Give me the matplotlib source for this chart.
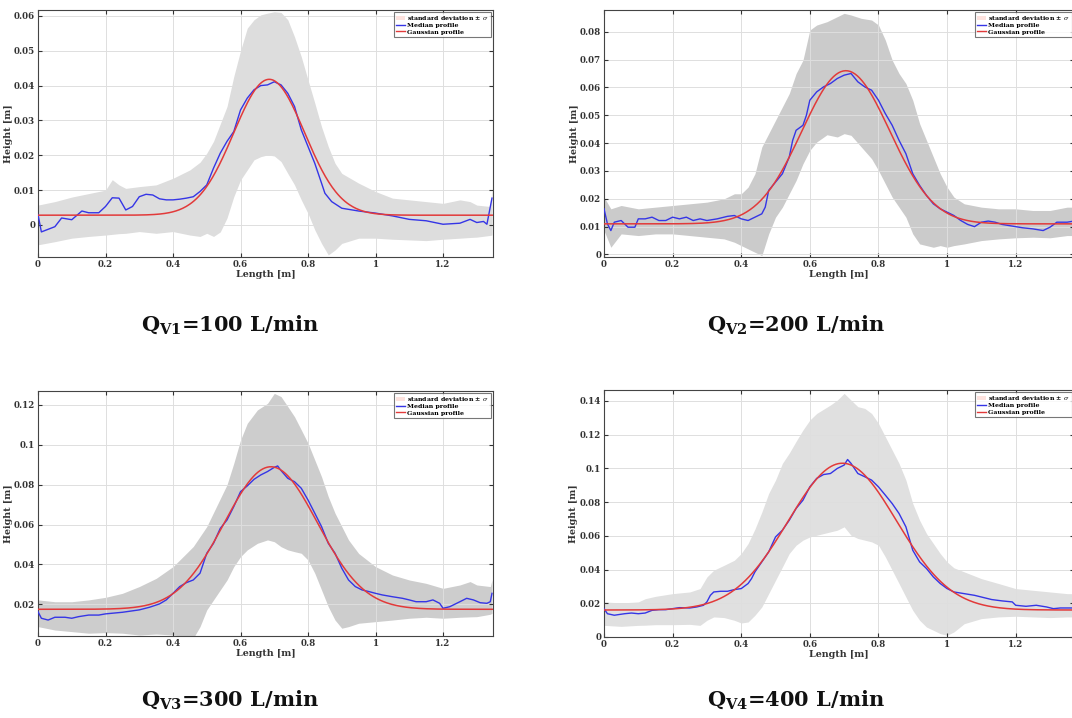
import numpy as np
import matplotlib
matplotlib.use("Agg")
import matplotlib.pyplot as plt
from matplotlib.patches import Patch
from matplotlib.lines import Line2D
from matplotlib.ticker import FuncFormatter, MultipleLocator

plt.rcParams['font.family'] = ['DejaVu Serif']
plt.rcParams['mathtext.fontset'] = 'custom'
plt.rcParams['mathtext.rm'] = 'DejaVu Serif:bold'
plt.rcParams['mathtext.it'] = 'DejaVu Serif:italic'
plt.rcParams['mathtext.bf'] = 'DejaVu Serif:bold'

# ---------------- data ----------------
captions = [r'Q$_{\mathrm{V1}}$=100 L/min', r'Q$_{\mathrm{V2}}$=200 L/min',
            r'Q$_{\mathrm{V3}}$=300 L/min', r'Q$_{\mathrm{V4}}$=400 L/min']

# Panel 1 (Qv1 = 100 L/min)
p1_med_x = [0, 0.01, 0.05, 0.07, 0.1, 0.13, 0.15, 0.18, 0.2, 0.22, 0.24, 0.26, 0.28, 0.3, 0.32, 0.34, 0.36,
            0.38, 0.4, 0.42, 0.44, 0.46, 0.48, 0.5, 0.52, 0.54, 0.56, 0.58, 0.6, 0.62, 0.64, 0.66, 0.68, 0.7,
            0.72, 0.74, 0.76, 0.78, 0.8, 0.82, 0.84, 0.85, 0.87, 0.9, 0.95, 1.0, 1.05, 1.1, 1.15, 1.2, 1.25,
            1.28, 1.3, 1.32, 1.33, 1.345]
p1_med_y = [0.003, -0.002, -0.0005, 0.002, 0.0015, 0.004, 0.0035, 0.0035, 0.0053, 0.0078, 0.0077, 0.0043,
            0.0053, 0.0081, 0.0088, 0.0086, 0.0075, 0.0072, 0.0072, 0.0074, 0.0077, 0.0081, 0.0096, 0.0115,
            0.0163, 0.0206, 0.024, 0.0268, 0.033, 0.0364, 0.0388, 0.040, 0.0402, 0.0411, 0.0402, 0.0378,
            0.034, 0.0273, 0.0225, 0.0177, 0.012, 0.0091, 0.0067, 0.0048, 0.004, 0.0034, 0.0026, 0.0016,
            0.0012, 0.0002, 0.0005, 0.0016, 0.0007, 0.001, 0.0002, 0.0077]
p1_band_x = [0, 0.05, 0.1, 0.15, 0.2, 0.22, 0.24, 0.26, 0.3, 0.35, 0.4, 0.45, 0.48, 0.5, 0.52, 0.54, 0.56,
             0.58, 0.6, 0.62, 0.64, 0.66, 0.68, 0.7, 0.72, 0.74, 0.76, 0.78, 0.8, 0.82, 0.84, 0.86, 0.88, 0.9,
             0.95, 1.0, 1.05, 1.1, 1.15, 1.2, 1.25, 1.28, 1.3, 1.34, 1.345]
p1_upper = [0.0057, 0.0067, 0.008, 0.009, 0.010, 0.013, 0.0115, 0.0105, 0.011, 0.0115, 0.0134, 0.0158,
            0.018, 0.0206, 0.024, 0.029, 0.034, 0.0426, 0.050, 0.0565, 0.0589, 0.0603, 0.0608, 0.0612,
            0.061, 0.0589, 0.054, 0.0483, 0.0416, 0.035, 0.0282, 0.0225, 0.0177, 0.0148, 0.012, 0.0096,
            0.0077, 0.0072, 0.0067, 0.0062, 0.0072, 0.0067, 0.0057, 0.0053, 0.0105]
p1_lower = [-0.0057, -0.0048, -0.0038, -0.0033, -0.0029, -0.0027, -0.0025, -0.0024, -0.0019, -0.0024,
            -0.0019, -0.0029, -0.0033, -0.0024, -0.0033, -0.002, 0.002, 0.0081, 0.0129, 0.0158, 0.0187,
            0.0196, 0.0201, 0.0198, 0.0182, 0.0148, 0.0115, 0.0072, 0.0033, -0.0014, -0.0053, -0.0086,
            -0.0072, -0.0053, -0.0038, -0.0038, -0.0041, -0.0043, -0.0045, -0.0041, -0.0038, -0.0036,
            -0.0035, -0.003, -0.0029]

# Panel 2 (Qv2 = 200 L/min)
p2_med_x = [0, 0.01, 0.02, 0.03, 0.05, 0.07, 0.09, 0.1, 0.12, 0.14, 0.16, 0.18, 0.2, 0.22, 0.24, 0.26, 0.28,
            0.3, 0.33, 0.36, 0.38, 0.4, 0.42, 0.44, 0.46, 0.47, 0.48, 0.5, 0.52, 0.54, 0.55, 0.56, 0.58, 0.59,
            0.6, 0.62, 0.64, 0.66, 0.68, 0.7, 0.72, 0.74, 0.76, 0.78, 0.8, 0.82, 0.84, 0.86, 0.88, 0.9, 0.92,
            0.94, 0.96, 0.98, 1.0, 1.02, 1.04, 1.06, 1.08, 1.1, 1.12, 1.14, 1.16, 1.18, 1.2, 1.22, 1.25, 1.28,
            1.3, 1.32, 1.35, 1.37]
p2_med_y = [0.0164, 0.011, 0.0086, 0.0116, 0.0122, 0.0098, 0.0098, 0.0128, 0.0128, 0.0134, 0.0122, 0.0122,
            0.0134, 0.0128, 0.0134, 0.0122, 0.0128, 0.0122, 0.0128, 0.0137, 0.014, 0.0128, 0.0122, 0.0134,
            0.0146, 0.017, 0.023, 0.026, 0.029, 0.035, 0.041, 0.0446, 0.0464, 0.05, 0.0554, 0.0584, 0.0602,
            0.0614, 0.0632, 0.0644, 0.065, 0.062, 0.0602, 0.059, 0.0554, 0.0506, 0.0464, 0.041, 0.0362,
            0.029, 0.0248, 0.0212, 0.0182, 0.0164, 0.0152, 0.014, 0.0122, 0.0108, 0.01, 0.0116, 0.012,
            0.0116, 0.0108, 0.0104, 0.01, 0.0096, 0.0092, 0.0086, 0.0098, 0.0116, 0.0116, 0.012]
p2_band_x = [0, 0.02, 0.05, 0.1, 0.15, 0.2, 0.25, 0.3, 0.35, 0.38, 0.4, 0.42, 0.44, 0.46, 0.48, 0.5, 0.52,
             0.54, 0.56, 0.58, 0.6, 0.62, 0.65, 0.68, 0.7, 0.72, 0.75, 0.78, 0.8, 0.82, 0.84, 0.86, 0.88, 0.9,
             0.92, 0.94, 0.96, 0.98, 1.0, 1.02, 1.05, 1.1, 1.15, 1.2, 1.25, 1.3, 1.35, 1.37]
p2_upper = [0.0206, 0.0164, 0.0176, 0.0164, 0.017, 0.0176, 0.0182, 0.0188, 0.02, 0.0218, 0.0218, 0.0242,
            0.029, 0.0386, 0.0434, 0.0482, 0.053, 0.0578, 0.065, 0.0698, 0.0806, 0.0824, 0.0836, 0.0854,
            0.0866, 0.086, 0.0848, 0.0842, 0.0824, 0.077, 0.0698, 0.065, 0.0614, 0.0554, 0.047, 0.041,
            0.035, 0.029, 0.0242, 0.0206, 0.0182, 0.017, 0.0164, 0.0164, 0.0158, 0.0158, 0.017, 0.017]
p2_lower = [0.0086, 0.0026, 0.0074, 0.0068, 0.0074, 0.0074, 0.0068, 0.0062, 0.0056, 0.0044, 0.0032, 0.002,
            0.0008, -0.0004, 0.0074, 0.0134, 0.017, 0.0218, 0.0266, 0.0326, 0.0374, 0.0404, 0.043, 0.0422,
            0.0434, 0.0428, 0.0386, 0.0344, 0.0302, 0.0254, 0.0206, 0.017, 0.0134, 0.0074, 0.0038, 0.0032,
            0.0026, 0.0032, 0.0026, 0.0032, 0.0038, 0.005, 0.0056, 0.006, 0.0062, 0.006, 0.0068, 0.0068]

# Panel 3 (Qv3 = 300 L/min)
p3_med_x = [0, 0.01, 0.03, 0.05, 0.08, 0.1, 0.12, 0.15, 0.18, 0.2, 0.25, 0.3, 0.33, 0.36, 0.38, 0.4, 0.42,
            0.44, 0.46, 0.48, 0.5, 0.52, 0.54, 0.56, 0.58, 0.6, 0.62, 0.64, 0.66, 0.68, 0.7, 0.71, 0.72, 0.74,
            0.76, 0.78, 0.8, 0.82, 0.84, 0.86, 0.88, 0.9, 0.92, 0.94, 0.96, 0.98, 1.0, 1.02, 1.05, 1.08, 1.1,
            1.12, 1.15, 1.17, 1.19, 1.2, 1.22, 1.25, 1.27, 1.29, 1.31, 1.33, 1.34, 1.345]
p3_med_y = [0.0163, 0.013, 0.0121, 0.0135, 0.0135, 0.013, 0.0138, 0.0146, 0.0146, 0.0152, 0.016, 0.0172,
            0.0185, 0.0202, 0.0222, 0.0255, 0.0289, 0.0309, 0.0322, 0.0356, 0.0456, 0.0506, 0.0581, 0.0623,
            0.069, 0.0765, 0.0794, 0.0827, 0.0849, 0.0866, 0.0887, 0.0894, 0.0871, 0.0832, 0.0815, 0.0782,
            0.0723, 0.0657, 0.059, 0.0506, 0.0456, 0.0381, 0.0322, 0.0289, 0.0272, 0.0264, 0.0255, 0.0247,
            0.0238, 0.023, 0.0222, 0.0213, 0.0213, 0.0222, 0.0205, 0.018, 0.0188, 0.0213, 0.023, 0.0222,
            0.0208, 0.0205, 0.0213, 0.0255]
p3_band_x = [0, 0.05, 0.1, 0.15, 0.2, 0.25, 0.3, 0.35, 0.4, 0.44, 0.46, 0.48, 0.5, 0.52, 0.54, 0.56, 0.58,
             0.6, 0.62, 0.65, 0.68, 0.7, 0.72, 0.74, 0.76, 0.78, 0.8, 0.82, 0.84, 0.86, 0.88, 0.9, 0.92, 0.95,
             1.0, 1.05, 1.1, 1.15, 1.2, 1.25, 1.28, 1.3, 1.34, 1.345]
p3_upper = [0.0222, 0.0213, 0.0213, 0.0222, 0.0235, 0.0255, 0.0289, 0.033, 0.0389, 0.0456, 0.049, 0.054,
            0.059, 0.066, 0.073, 0.08, 0.0907, 0.1024, 0.1108, 0.1175, 0.1208, 0.1258, 0.1242, 0.1192,
            0.1141, 0.1075, 0.1008, 0.0924, 0.084, 0.074, 0.0657, 0.059, 0.0523, 0.0455, 0.0389, 0.0347,
            0.0322, 0.0305, 0.028, 0.0297, 0.0314, 0.0297, 0.0289, 0.0322]
p3_lower = [0.0088, 0.0071, 0.0063, 0.0055, 0.0058, 0.0055, 0.0046, 0.0051, 0.0046, 0.0038, 0.003, 0.0088,
            0.0172, 0.0222, 0.0272, 0.0322, 0.0389, 0.0439, 0.0473, 0.0506, 0.0523, 0.0514, 0.0489, 0.0473,
            0.0464, 0.0456, 0.0422, 0.0356, 0.0272, 0.0188, 0.0121, 0.008, 0.0088, 0.0105, 0.0113, 0.0121,
            0.013, 0.0135, 0.013, 0.0135, 0.0137, 0.0138, 0.015, 0.0155]

# Panel 4 (Qv4 = 400 L/min)
p4_med_x = [0, 0.01, 0.03, 0.06, 0.08, 0.1, 0.12, 0.14, 0.16, 0.18, 0.2, 0.22, 0.25, 0.27, 0.29, 0.3, 0.31,
            0.32, 0.34, 0.36, 0.38, 0.4, 0.42, 0.43, 0.44, 0.46, 0.48, 0.5, 0.52, 0.54, 0.56, 0.58, 0.6, 0.62,
            0.64, 0.66, 0.68, 0.7, 0.71, 0.72, 0.74, 0.76, 0.78, 0.8, 0.82, 0.84, 0.86, 0.88, 0.9, 0.92, 0.94,
            0.96, 0.98, 1.0, 1.02, 1.05, 1.08, 1.1, 1.13, 1.16, 1.19, 1.2, 1.23, 1.26, 1.29, 1.31, 1.33, 1.35,
            1.37]
p4_med_y = [0.0168, 0.0138, 0.0129, 0.0138, 0.0142, 0.0138, 0.0142, 0.0158, 0.0162, 0.0162, 0.0168, 0.0174,
            0.0172, 0.0178, 0.0188, 0.0208, 0.0247, 0.0267, 0.0271, 0.0271, 0.0281, 0.0287, 0.0317, 0.0346,
            0.0386, 0.0445, 0.0504, 0.0593, 0.0633, 0.0692, 0.0762, 0.0811, 0.089, 0.094, 0.0963, 0.0969,
            0.0999, 0.1019, 0.1052, 0.1029, 0.0969, 0.095, 0.093, 0.089, 0.0841, 0.0791, 0.0732, 0.0653,
            0.0514, 0.0445, 0.0406, 0.0356, 0.0317, 0.0287, 0.0267, 0.0257, 0.0247, 0.0237, 0.0222, 0.0214,
            0.0208, 0.0188, 0.0182, 0.0188, 0.0178, 0.0168, 0.0172, 0.0172, 0.0172]
p4_band_x = [0, 0.05, 0.1, 0.12, 0.15, 0.2, 0.25, 0.28, 0.3, 0.32, 0.35, 0.38, 0.4, 0.42, 0.44, 0.46, 0.48,
             0.5, 0.52, 0.54, 0.56, 0.58, 0.6, 0.62, 0.64, 0.66, 0.68, 0.7, 0.72, 0.74, 0.76, 0.78, 0.8, 0.82,
             0.84, 0.86, 0.88, 0.9, 0.92, 0.94, 0.96, 0.98, 1.0, 1.02, 1.05, 1.1, 1.15, 1.2, 1.25, 1.3, 1.35,
             1.37]
p4_upper = [0.0208, 0.0202, 0.0208, 0.0227, 0.0241, 0.0257, 0.0267, 0.0287, 0.0356, 0.0396, 0.0425, 0.0455,
            0.0495, 0.0554, 0.064, 0.074, 0.0851, 0.093, 0.1029, 0.109, 0.116, 0.1227, 0.1286, 0.1325, 0.135,
            0.1375, 0.1404, 0.1444, 0.1404, 0.1365, 0.1355, 0.1325, 0.1266, 0.1187, 0.1108, 0.1029, 0.093,
            0.0791, 0.0692, 0.0613, 0.0554, 0.0495, 0.0445, 0.041, 0.0386, 0.0346, 0.0317, 0.0287, 0.0277,
            0.0267, 0.0257, 0.0257]
p4_lower = [0.0069, 0.0063, 0.0069, 0.007, 0.0073, 0.0073, 0.0075, 0.0069, 0.0099, 0.0119, 0.0115, 0.0099,
            0.0083, 0.0089, 0.0129, 0.0178, 0.0257, 0.0336, 0.0415, 0.0495, 0.0544, 0.0574, 0.0593, 0.0603,
            0.0613, 0.0623, 0.0633, 0.0653, 0.0603, 0.0584, 0.0574, 0.0564, 0.0544, 0.0475, 0.0396, 0.0317,
            0.0237, 0.0158, 0.0099, 0.0059, 0.004, 0.002, 0.001, 0.003, 0.0079, 0.0109, 0.0119, 0.0123,
            0.0119, 0.0115, 0.0119, 0.0119]

# Gaussian fit parameters: baseline, peak, centre, width (m)
gauss_base = [0.0028, 0.011, 0.0175, 0.016]
gauss_peak = [0.0418, 0.066, 0.089, 0.103]
gauss_center = [0.685, 0.705, 0.69, 0.695]
gauss_width = [0.105, 0.128, 0.138, 0.158]

x_limits = [(0, 1.348), (0, 1.37), (0, 1.348), (0, 1.37)]
y_limits = [(-0.0092, 0.0617), (-0.0009, 0.0878), (0.0041, 0.127), (0, 0.1464)]
y_steps = [0.01, 0.01, 0.02, 0.02]
band_colors = ['#dddddd', '#cbcbcb', '#cdcdcd', '#e0e0e0']

med_x = [p1_med_x, p2_med_x, p3_med_x, p4_med_x]
med_y = [p1_med_y, p2_med_y, p3_med_y, p4_med_y]
band_x = [p1_band_x, p2_band_x, p3_band_x, p4_band_x]
uppers = [p1_upper, p2_upper, p3_upper, p4_upper]
lowers = [p1_lower, p2_lower, p3_lower, p4_lower]

# ---------------- layout (pixels) ----------------
W, H = 1072, 718
# left, right, top, bottom in pixels
boxes = [(38, 493, 10, 257), (604, 1074, 10, 257), (38, 493, 391, 636), (604, 1074, 390, 637)]
cap_pos = [(230, 325), (796, 325), (230, 700), (796, 700)]

fig = plt.figure(figsize=(W / 100, H / 100), dpi=100)
fmt = FuncFormatter(lambda v, p: '%g' % round(v, 6))

for i in range(4):
    l, r, t, b = boxes[i]
    ax = fig.add_axes([l / W, 1 - b / H, (r - l) / W, (b - t) / H])
    ax.set_axisbelow('line')
    ax.fill_between(band_x[i], lowers[i], uppers[i], color=band_colors[i], lw=0, zorder=1)
    xg = np.linspace(0, x_limits[i][1], 400)
    yg = gauss_base[i] + (gauss_peak[i] - gauss_base[i]) * np.exp(
        -(xg - gauss_center[i]) ** 2 / (2 * gauss_width[i] ** 2))
    ax.plot(med_x[i], med_y[i], color='#3535e6', lw=1.0, zorder=3)
    ax.plot(xg, yg, color='#e23a3a', lw=1.1, zorder=4)
    ax.set_xlim(*x_limits[i])
    ax.set_ylim(*y_limits[i])
    ax.xaxis.set_major_locator(MultipleLocator(0.2))
    ax.yaxis.set_major_locator(MultipleLocator(y_steps[i]))
    ax.xaxis.set_major_formatter(fmt)
    ax.yaxis.set_major_formatter(fmt)
    ax.grid(True, color='#dedede', lw=0.7)
    ax.tick_params(direction='in', length=3, width=0.8, top=True, right=True,
                   labelsize=6.2, pad=2, colors='#333333')
    for lab in ax.get_xticklabels() + ax.get_yticklabels():
        lab.set_fontweight('bold')
    for s in ax.spines.values():
        s.set_color('#444444')
        s.set_linewidth(0.8)
    ax.set_xlabel('Length [m]', fontsize=6.8, fontweight='bold', labelpad=1, color='#333333')
    ax.set_ylabel('Height [m]', fontsize=6.8, fontweight='bold', labelpad=1, color='#333333')
    handles = [Patch(facecolor='#fde2de', edgecolor='none'),
               Line2D([], [], color='#3535e6', lw=1.0),
               Line2D([], [], color='#e23a3a', lw=1.0)]
    labels = [r'standard deviation $\pm$ $\sigma$', 'Median profile', 'Gaussian profile']
    leg = ax.legend(handles, labels, loc='upper right', frameon=True, fancybox=False,
                    borderpad=0.3, labelspacing=0.15, handlelength=1.5, handletextpad=0.3,
                    borderaxespad=0.35, prop={'weight': 'bold', 'size': 4.5})
    leg.get_frame().set_edgecolor('#555555')
    leg.get_frame().set_linewidth(0.8)
    cx, cy = cap_pos[i]
    fig.text(cx / W, 1 - cy / H, captions[i], fontsize=15, fontweight='bold',
             ha='center', va='center', color='#111111')

fig.savefig('out.png', dpi=100)
